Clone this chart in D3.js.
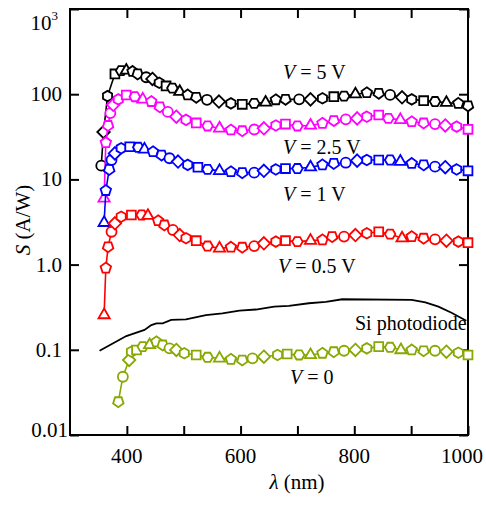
<!DOCTYPE html>
<html>
<head>
<meta charset="utf-8">
<script src="https://cdn.jsdelivr.net/npm/d3@7"></script>
<style>
  body { margin: 0; background: #fff; }
  svg { display: block; }
</style>
</head>
<body>
<svg id="canvas" width="486" height="506" font-family="'Liberation Serif', Tinos, 'Times New Roman', Times, serif"></svg>
<script>
(() => {
    // Data: wavelength (nm) and responsivity S (A/W).
    const lambda5V = [355, 359, 366, 379, 390, 399, 410, 419, 434, 445, 457, 469, 480, 493, 507, 522, 541, 562, 583, 603, 624, 644, 662, 679, 703, 723, 744, 764, 782, 802, 822, 843, 863, 884, 901, 922, 942, 962, 983, 1000];
    const s5V = [14.5, 36, 95, 173, 189, 190, 185, 173, 158, 151, 136, 125, 118, 107, 98, 92, 86, 82, 78, 76, 78, 80, 86, 87, 87, 87, 89.5, 93.5, 95, 100, 104, 102.5, 98, 92, 87, 84, 82, 79.5, 78, 73];

    const lambda25V = [360, 363, 367, 371, 376, 385, 399, 414, 428, 443, 458, 472, 487, 504, 522, 542, 563, 583, 603, 624, 641, 662, 679, 700, 723, 744, 764, 785, 805, 822, 843, 860, 881, 901, 922, 942, 960, 980, 1000];
    const s25V = [6.0, 27, 43, 60, 75, 87, 98, 93.5, 87, 82, 71, 62, 54.5, 50, 46, 42.4, 39.8, 38, 37.3, 38.5, 39.8, 43, 44.6, 42.4, 43, 45.5, 49, 50.7, 52, 54.5, 57, 52, 50, 47.5, 46, 44.6, 43, 41.6, 38.7];

    const lambda1V = [360, 363, 369, 373, 379, 390, 405, 420, 431, 446, 461, 475, 490, 507, 525, 542, 563, 583, 603, 624, 641, 662, 679, 700, 723, 744, 764, 785, 805, 822, 843, 863, 881, 901, 922, 942, 960, 980, 1000];
    const s1V = [3.1, 7.4, 13.1, 16.9, 20.2, 23.2, 24.2, 23.8, 22.5, 21.1, 19.3, 17.7, 16.2, 14.8, 13.9, 13.1, 12.6, 12.3, 12.0, 12.0, 12.6, 13.1, 13.4, 13.4, 13.9, 14.8, 15.4, 15.7, 16.6, 16.9, 16.9, 16.9, 16.2, 15.4, 14.8, 14.1, 13.9, 13.1, 12.6];

    const lambda05V = [360, 363, 367, 373, 379, 390, 408, 426, 437, 455, 466, 481, 493, 504, 522, 542, 563, 583, 603, 624, 641, 662, 679, 700, 723, 744, 761, 782, 802, 822, 843, 863, 884, 901, 922, 942, 962, 983, 1000];
    const s05V = [0.256, 0.91, 1.62, 2.43, 3.05, 3.65, 3.82, 3.82, 3.75, 3.27, 2.92, 2.55, 2.22, 2.04, 1.91, 1.65, 1.55, 1.60, 1.60, 1.65, 1.78, 1.86, 1.91, 1.86, 1.91, 1.95, 2.13, 2.13, 2.22, 2.33, 2.43, 2.28, 2.04, 2.13, 2.04, 1.98, 1.91, 1.86, 1.81];

    const lambda0V = [385, 393, 404, 408, 417, 428, 440, 452, 463, 475, 487, 501, 522, 542, 563, 583, 603, 621, 641, 665, 682, 703, 723, 744, 764, 782, 802, 822, 843, 863, 882, 901, 922, 942, 962, 983, 1000];
    const s0V = [0.0246, 0.0483, 0.0759, 0.095, 0.0995, 0.109, 0.114, 0.124, 0.114, 0.104, 0.0995, 0.091, 0.087, 0.0817, 0.0794, 0.0773, 0.0759, 0.0794, 0.083, 0.087, 0.0893, 0.087, 0.087, 0.091, 0.095, 0.0975, 0.0995, 0.104, 0.109, 0.107, 0.0995, 0.0995, 0.0975, 0.0975, 0.095, 0.0925, 0.087];

    const lambdaSi = [352, 399, 431, 443, 452, 463, 478, 504, 539, 568, 598, 627, 659, 685, 720, 750, 779, 901, 925, 948, 971, 997];
    const sSi = [0.0975, 0.145, 0.171, 0.195, 0.204, 0.204, 0.224, 0.227, 0.256, 0.268, 0.288, 0.297, 0.321, 0.327, 0.352, 0.365, 0.392, 0.386, 0.36, 0.321, 0.272, 0.219];

    const xTicks = [400, 500, 600, 700, 800, 900, 1000];
    const xTickLabels = ["400", "", "600", "", "800", "", "1000"];
    const yTicks = [0.01, 0.1, 1, 10, 100, 1000];
    const yTickLabels = ["0.01", "0.1", "1.0", "10", "100", "10³"];

    const SERIES = [
        { name: "V = 5 V", x: lambda5V, y: s5V, color: "#000000" },
        { name: "V = 2.5 V", x: lambda25V, y: s25V, color: "#ff00ff" },
        { name: "V = 1 V", x: lambda1V, y: s1V, color: "#0000ff" },
        { name: "V = 0.5 V", x: lambda05V, y: s05V, color: "#ff0000" },
        { name: "V = 0", x: lambda0V, y: s0V, color: "#86a800" }
    ];

    const canvas = d3.select("#canvas");
    const FONT = "'Liberation Serif', Tinos, 'Times New Roman', Times, serif";
    const left = 70, right = 468, top = 9, bottom = 435;
    const TICK = 9;

    const x = d3.scaleLinear().domain([300, 1000]).range([left, right]);
    const y = d3.scaleLog().domain([0.01, 1000]).range([bottom, top]);

    // Frame ticks, all pointing inward.
    canvas.append("g").attr("transform", `translate(0,${bottom})`)
        .call(d3.axisBottom(x).tickValues(xTicks).tickSizeInner(-TICK).tickSizeOuter(0).tickFormat(""));
    canvas.append("g").attr("transform", `translate(0,${top})`)
        .call(d3.axisTop(x).tickValues(xTicks).tickSizeInner(-TICK).tickSizeOuter(0).tickFormat(""));
    canvas.append("g").attr("transform", `translate(${left},0)`)
        .call(d3.axisLeft(y).tickValues(yTicks).tickSizeInner(-TICK).tickSizeOuter(0).tickFormat(""));
    canvas.append("g").attr("transform", `translate(${right},0)`)
        .call(d3.axisRight(y).tickValues(yTicks).tickSizeInner(-TICK).tickSizeOuter(0).tickFormat(""));
    canvas.selectAll(".domain").remove();
    canvas.selectAll(".tick line").attr("stroke", "#000").attr("stroke-width", 2);

    canvas.append("rect")
        .attr("x", left).attr("y", top)
        .attr("width", right - left).attr("height", bottom - top)
        .attr("fill", "none").attr("stroke", "#000").attr("stroke-width", 2);

    function label(parent, size) {
        return parent.append("text")
            .attr("font-family", FONT)
            .attr("font-size", size)
            .attr("fill", "#000");
    }

    // Tick labels.
    xTicks.forEach((v, i) => {
        if (!xTickLabels[i]) return;
        label(canvas, 21)
            .attr("x", v === 1000 ? 462 : x(v))
            .attr("y", 463)
            .attr("text-anchor", "middle")
            .text(xTickLabels[i]);
    });

    yTicks.forEach((v, i) => {
        let t = label(canvas, 21).attr("text-anchor", "end");
        if (v === 1000) {
            t.attr("x", 58).attr("y", 30);
            t.append("tspan").text("10");
            t.append("tspan").attr("font-size", 13).attr("dy", -10).text("3");
        } else if (v === 0.01) {
            t.attr("x", 68).attr("y", 437).text(yTickLabels[i]);
        } else {
            t.attr("x", 62).attr("y", y(v) + 7).text(yTickLabels[i]);
        }
    });

    // Axis titles.
    let xt = label(canvas, 21).attr("x", 297).attr("y", 489).attr("text-anchor", "middle");
    xt.append("tspan").attr("font-style", "italic").text("λ");
    xt.append("tspan").text(" (nm)");

    let yt = label(canvas, 21)
        .attr("transform", "translate(30,220) rotate(-90)")
        .attr("text-anchor", "middle");
    yt.append("tspan").attr("font-style", "italic").text("S");
    yt.append("tspan").text(" (A/W)");

    // Marker shapes cycle through the point index.
    function polygon(n, r, rot) {
        let pts = d3.range(n).map(k => {
            let a = rot + k * 2 * Math.PI / n;
            return [r * Math.sin(a), -r * Math.cos(a)];
        });
        return "M" + pts.map(p => p.join(",")).join("L") + "Z";
    }
    const R = 5;
    const SHAPES = [
        "M" + R + ",0A" + R + "," + R + " 0 1,1 " + (-R) + ",0A" + R + "," + R + " 0 1,1 " + R + ",0Z",
        polygon(4, R * 1.25, Math.PI / 4),
        polygon(5, R * 1.1, 0),
        polygon(4, R * 1.25, 0),
        polygon(6, R * 1.05, Math.PI / 6),
        polygon(5, R * 1.1, Math.PI),
        polygon(6, R * 1.05, 0),
        polygon(3, R * 1.3, 0)
    ];

    const line = d3.line().x(d => x(d[0])).y(d => y(d[1]));

    // Si photodiode reference curve.
    canvas.append("path")
        .datum(lambdaSi.map((v, i) => [v, sSi[i]]))
        .attr("d", line)
        .attr("fill", "none").attr("stroke", "#000").attr("stroke-width", 1.8);

    SERIES.forEach(s => {
        let pts = s.x.map((v, i) => [v, s.y[i]]);
        let g = canvas.append("g");
        g.append("path").datum(pts).attr("d", line)
            .attr("fill", "none").attr("stroke", s.color).attr("stroke-width", 1.6);
        g.selectAll("path.mark").data(pts).enter().append("path")
            .classed("mark", true)
            .attr("transform", d => `translate(${x(d[0])},${y(d[1])})`)
            .attr("d", (d, i) => SHAPES[(i * 3 + s.x.length) % SHAPES.length])
            .attr("fill", "#fff").attr("stroke", s.color).attr("stroke-width", 1.8);
    });

    // Annotations.
    const notes = [
        { v: "5 V", x: 283, y: 79 },
        { v: "2.5 V", x: 283, y: 154 },
        { v: "1 V", x: 283, y: 201 },
        { v: "0.5 V", x: 278, y: 273 },
        { v: "0", x: 290, y: 384 }
    ];
    notes.forEach(n => {
        let t = label(canvas, 20).attr("x", n.x).attr("y", n.y);
        t.append("tspan").attr("font-style", "italic").text("V");
        t.append("tspan").text(" = " + n.v);
    });
    label(canvas, 20).attr("x", 355).attr("y", 330).text("Si photodiode");
})();
</script>
</body>
</html>
